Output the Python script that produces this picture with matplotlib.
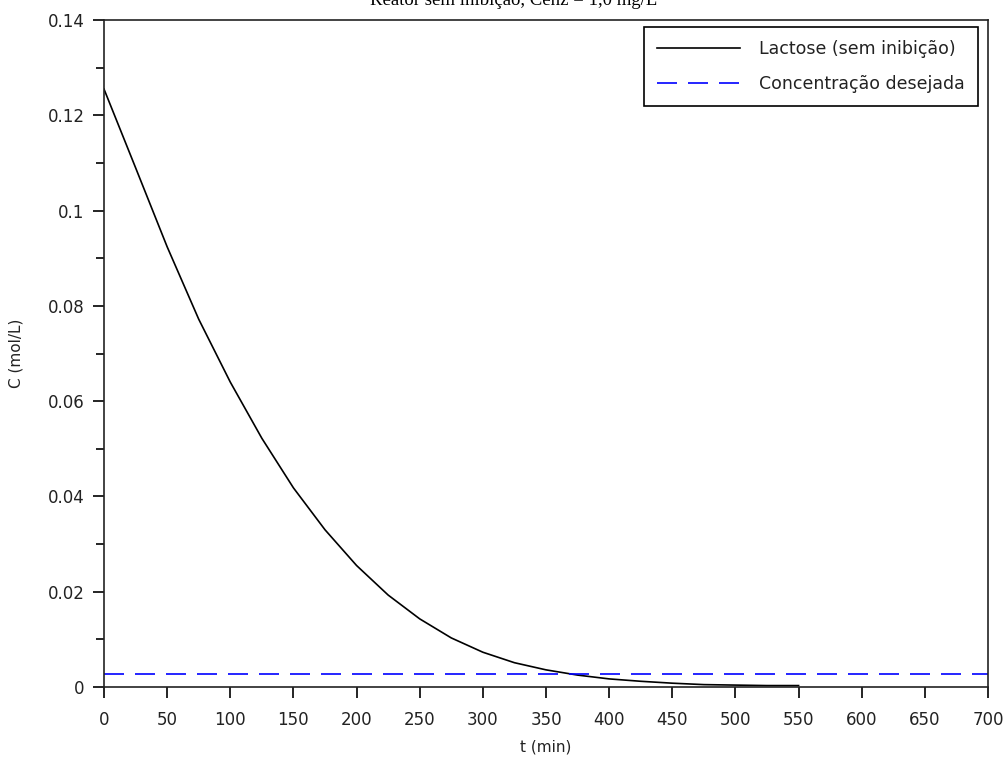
import matplotlib
matplotlib.use("Agg")
import matplotlib.pyplot as plt
from matplotlib.ticker import MultipleLocator

# lactose concentration over time, batch reactor without inhibition
t_min = [0, 25, 50, 75, 100, 125, 150, 175, 200, 225, 250, 275,
         300, 325, 350, 375, 400, 425, 450, 475, 500, 525, 550]
c_lactose = [0.1255, 0.1090, 0.0924, 0.0772, 0.0640, 0.0522, 0.0418,
             0.0330, 0.0255, 0.0193, 0.0143, 0.0103, 0.0073, 0.0051,
             0.0036, 0.0025, 0.0017, 0.0012, 0.0008, 0.0005, 0.0004,
             0.0003, 0.0003]

# target concentration (horizontal reference)
t_range = [0, 700]
c_target = 0.0028

labels = ["Lactose (sem inibição)", "Concentração desejada"]
title = "Reator sem inibição, Cenz = 1,0 mg/L"

W, H = 1008, 765
fig = plt.figure(figsize=(W / 100, H / 100), dpi=100)
ax = fig.add_axes([104 / W, 1 - 687 / H, (988 - 104) / W, (687 - 20) / H])

ax.plot(t_min, c_lactose, color="black", lw=1.2, label=labels[0])
ax.plot(t_range, [c_target, c_target], color="#0000ff", lw=1.2,
        dashes=(12, 6.6), label=labels[1])

ax.set_xlim(0, 700)
ax.set_ylim(0, 0.14)
ax.xaxis.set_major_locator(MultipleLocator(50))
ax.yaxis.set_major_locator(MultipleLocator(0.02))
ax.yaxis.set_minor_locator(MultipleLocator(0.01))
ax.yaxis.set_major_formatter(plt.FuncFormatter(lambda v, p: "0" if v == 0 else "%g" % v))

ax.tick_params(axis="both", direction="out", labelsize=12, colors="black",
               labelcolor="#222222", width=1.2, length=8)
ax.tick_params(axis="y", which="minor", direction="out", width=1.2, length=5.5)
ax.tick_params(axis="x", pad=9)
ax.tick_params(axis="y", pad=6)
for s in ax.spines.values():
    s.set_linewidth(1.2)
    s.set_color("#222222")

ax.set_xlabel("t (min)", fontsize=11, labelpad=8, color="#222222")
ax.set_ylabel("C (mol/L)", fontsize=11, labelpad=17, color="#222222")

leg = ax.legend(loc="upper right", bbox_to_anchor=(978 / W, 1 - 27 / H),
                bbox_transform=fig.transFigure, borderaxespad=0,
                fancybox=False, edgecolor="black", framealpha=1,
                fontsize=12.5, handlelength=4.8, handletextpad=1.1,
                labelspacing=1.0, borderpad=0.75)
leg.get_frame().set_linewidth(1.2)
for txt in leg.get_texts():
    txt.set_color("#222222")

# title sits partly above the top edge
fig.text(0.51, 1 - 5 / H, title, ha="center", va="baseline",
         family="Liberation Serif", fontsize=13.5)

fig.savefig("out.png", dpi=100)
